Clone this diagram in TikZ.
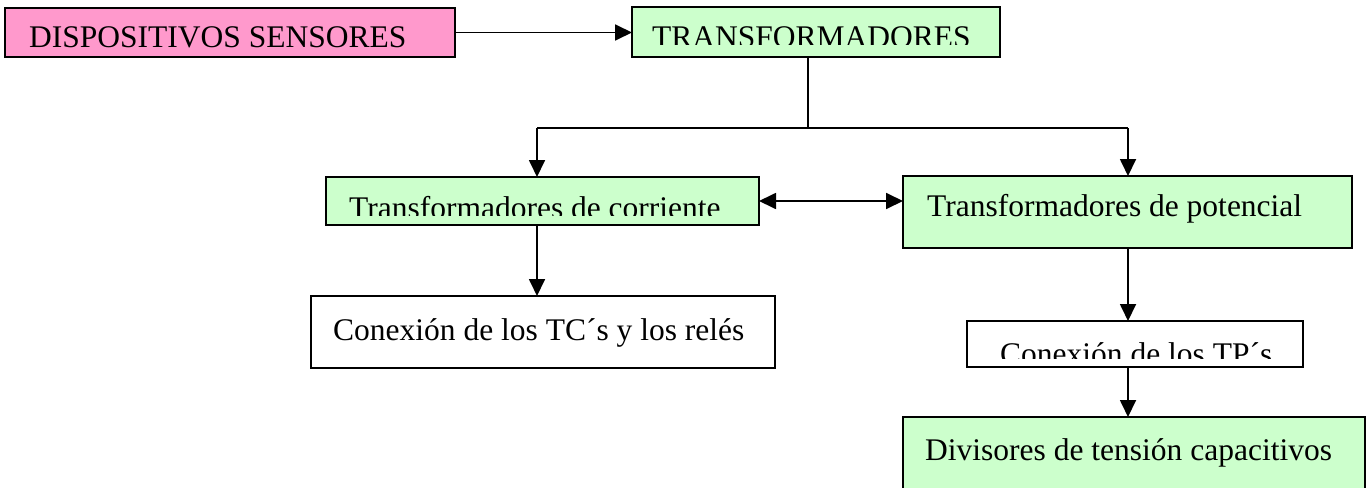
\documentclass[tikz,border=0pt]{standalone}
\usepackage{fontspec}
\setmainfont{Liberation Serif}
\usetikzlibrary{arrows.meta}
\definecolor{pinkfill}{HTML}{FF99CC}
\definecolor{greenfill}{HTML}{CCFFCC}
\tikzset{
  boxstyle/.style={draw=black, line width=1.9pt, inner sep=0pt, outer sep=0pt},
  txt/.style={anchor=base west, inner sep=0pt, font=\fontsize{31.5}{36}\selectfont},
  tip/.tip={Triangle[length=17pt,width=16pt]},
  conn/.style={line width=1.8pt, -tip},
  conn2/.style={line width=1.8pt, tip-tip},
  plain/.style={line width=1.8pt}
}
\begin{document}
\begin{tikzpicture}[x=1pt,y=-1pt]
\clip (0,0) rectangle (1367,487);
\useasboundingbox (0,0) rectangle (1367,487);
% boxes
\node[boxstyle, fill=pinkfill, minimum width=450pt, minimum height=49pt, anchor=north west] (pink) at (5,8) {};
\node[boxstyle, fill=greenfill, minimum width=368pt, minimum height=50pt, anchor=north west] (tr) at (632,7) {};
\node[boxstyle, fill=greenfill, minimum width=433pt, minimum height=48pt, anchor=north west] (ct) at (326,177) {};
\node[boxstyle, fill=greenfill, minimum width=449pt, minimum height=72pt, anchor=north west] (pot) at (903,176) {};
\node[boxstyle, fill=white, minimum width=464pt, minimum height=72pt, anchor=north west] (tc) at (311,296) {};
\node[boxstyle, fill=white, minimum width=336pt, minimum height=46pt, anchor=north west] (tp) at (967,321) {};
\node[boxstyle, fill=greenfill, minimum width=462pt, minimum height=90pt, anchor=north west] (div) at (903,417) {};
% texts
\node[txt] (tpink) at (29,48) {DISPOSITIVOS SENSORES};
\begin{scope}
\clip (tr.north west) rectangle (1000,45);
\node[txt] (ttr) at (652,48) {TRANSFORMADORES};
\end{scope}
\begin{scope}
\clip (ct.north west) rectangle (759,215);
\node[txt] (tct) at (349,218) {Transformadores de corriente};
\end{scope}
\node[txt] (tpot) at (927,216) {Transformadores de potencial};
\node[txt] (ttc) at (333,340) {Conexión de los TC´s y los relés};
\begin{scope}
\clip (tp.north west) rectangle (1303,358);
\node[txt] (ttp) at (1000,364) {Conexión de los TP´s};
\end{scope}
\node[txt] (tdiv) at (925,460) {Divisores de tensión capacitivos};
% connectors
\coordinate (j) at (808,128);
\coordinate (jl) at (537,128);
\coordinate (jr) at (1128,128);
\draw[conn] (pink.east) -- (pink.east -| tr.west);
\draw[plain] (j |- tr.south) -- (j);
\draw[plain] (jl) -- (jr);
\draw[conn] (jl) -- (jl |- ct.north);
\draw[conn] (jr) -- (jr |- pot.north);
\draw[conn2] (ct.east) -- (ct.east -| pot.west);
\draw[conn] (jl |- ct.south) -- (jl |- tc.north);
\draw[conn] (jr |- pot.south) -- (jr |- tp.north);
\draw[conn] (jr |- tp.south) -- (jr |- div.north);
\end{tikzpicture}
\end{document}
